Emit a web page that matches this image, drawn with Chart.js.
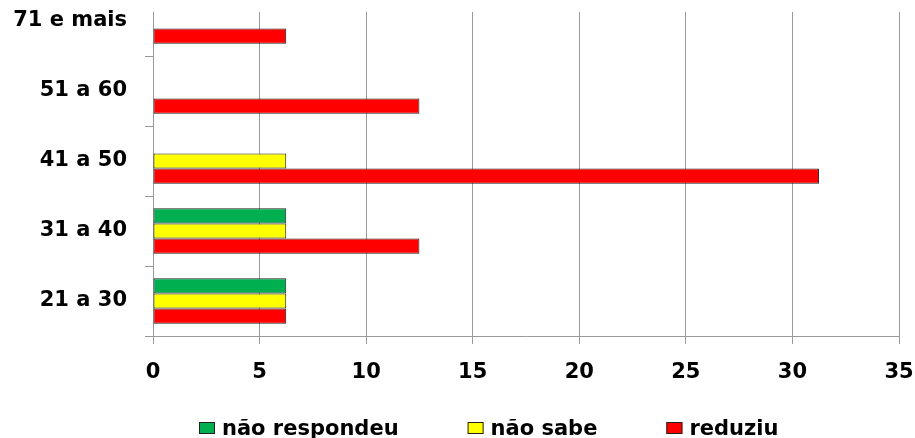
<!DOCTYPE html>
<html><head><meta charset="utf-8">
<script src="https://cdn.jsdelivr.net/npm/chart.js@4/dist/chart.umd.min.js"></script>
<style>
html,body{margin:0;padding:0;background:#fff;overflow:hidden;width:915px;height:438px;}
#wrap{position:absolute;left:0;top:-14px;width:915px;height:452px;}
</style></head><body>
<div id="wrap"><canvas id="c" width="915" height="452"></canvas></div>
<script>
const categories = ["71 e mais", "51 a 60", "41 a 50", "31 a 40", "21 a 30"];
const seriesNames = ["não respondeu", "não sabe", "reduziu"];
const naoRespondeu = [null, null, null, 6.25, 6.25];
const naoSabe = [null, null, 6.25, 6.25, 6.25];
const reduziu = [6.25, 12.5, 31.25, 12.5, 6.25];
const xMin = 0, xMax = 35, xStep = 5;

const FONT = {family: "'DejaVu Sans', sans-serif", size: 21, weight: 'bold'};
const GRID = '#9a9a9a';

const maskTop = {
  id: 'maskTop',
  beforeDatasetsDraw(chart) {
    const ctx = chart.ctx, a = chart.chartArea;
    ctx.save();
    ctx.fillStyle = '#fff';
    ctx.fillRect(a.left - 12, 0, a.right - a.left + 20, 26);
    ctx.restore();
  }
};

const bottomLegend = {
  id: 'bottomLegend',
  afterDraw(chart) {
    const ctx = chart.ctx;
    ctx.save();
    ctx.font = 'bold 21px "DejaVu Sans", sans-serif';
    ctx.textBaseline = 'alphabetic';
    let x = 199;
    const boxY = 436, textY = 449;
    chart.data.datasets.forEach(ds => {
      ctx.fillStyle = ds.backgroundColor;
      ctx.fillRect(x, boxY, 16, 12);
      ctx.strokeStyle = '#222';
      ctx.lineWidth = 1;
      ctx.strokeRect(x + 0.5, boxY + 0.5, 15, 11);
      ctx.fillStyle = '#000';
      ctx.fillText(ds.label, x + 23, textY);
      x += 23 + ctx.measureText(ds.label).width + 69;
    });
    ctx.restore();
  }
};

new Chart(document.getElementById('c'), {
  type: 'bar',
  data: {
    labels: categories,
    datasets: [
      {label: seriesNames[0], data: naoRespondeu, backgroundColor: '#00B050'},
      {label: seriesNames[1], data: naoSabe, backgroundColor: '#FFFF00'},
      {label: seriesNames[2], data: reduziu, backgroundColor: '#FF0000'}
    ].map(d => Object.assign(d, {borderColor: '#222', borderWidth: 1, borderSkipped: false,
      categoryPercentage: 0.65, barPercentage: 1.0}))
  },
  options: {
    indexAxis: 'y',
    responsive: false,
    animation: false,
    devicePixelRatio: 1,
    layout: {padding: {top: 0, right: 16, bottom: 0, left: 0}},
    plugins: {legend: {display: false}, tooltip: {enabled: false}},
    scales: {
      x: {
        type: 'linear', min: xMin, max: xMax,
        ticks: {stepSize: xStep, color: '#000', font: FONT, padding: 16},
        grid: {color: GRID, lineWidth: 1, tickLength: 8},
        border: {color: GRID},
        afterFit(s) { s.height = 102; s.paddingLeft = 0; s.paddingRight = 0; }
      },
      y: {
        type: 'category',
        ticks: {color: '#000', font: FONT, padding: 18},
        grid: {drawOnChartArea: false, color: GRID, tickLength: 8, offset: true},
        border: {color: GRID},
        afterFit(s) { s.width = 153; s.paddingTop = 0; s.paddingBottom = 0; }
      }
    }
  },
  plugins: [maskTop, bottomLegend]
});
</script>
</body></html>
